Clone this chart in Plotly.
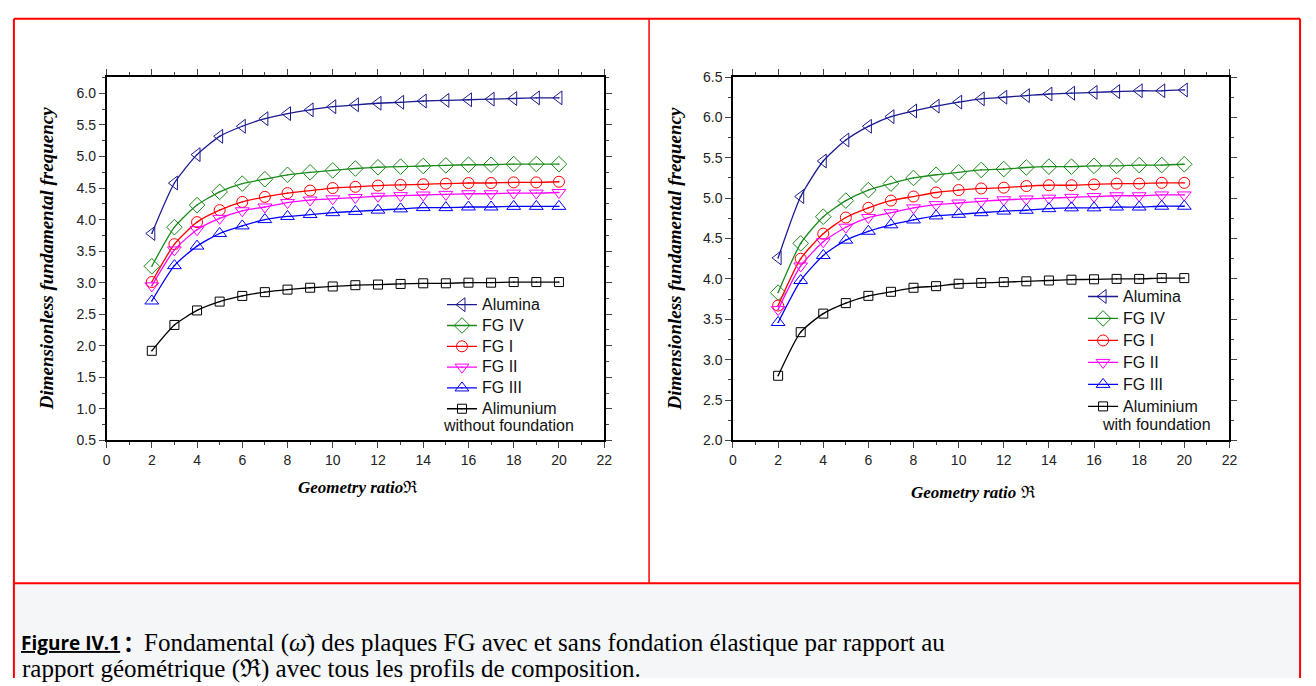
import plotly.graph_objects as go

# Geometry ratio values (shared by both panels)
ratio = list(range(2, 21))

# Dimensionless fundamental frequency, plates without elastic foundation
alumina_wo = [3.78, 4.58, 5.03, 5.32, 5.48, 5.60, 5.68, 5.74, 5.79, 5.82, 5.845, 5.86, 5.88, 5.89, 5.90, 5.91, 5.92, 5.93, 5.93]
fg4_wo = [3.26, 3.88, 4.23, 4.44, 4.57, 4.64, 4.71, 4.75, 4.78, 4.81, 4.83, 4.84, 4.85, 4.86, 4.87, 4.87, 4.88, 4.88, 4.88]
fg1_wo = [3.01, 3.61, 3.96, 4.15, 4.28, 4.36, 4.42, 4.46, 4.50, 4.52, 4.54, 4.55, 4.56, 4.57, 4.58, 4.58, 4.59, 4.59, 4.60]
fg2_wo = [2.95, 3.52, 3.84, 4.02, 4.14, 4.20, 4.27, 4.31, 4.33, 4.35, 4.37, 4.38, 4.39, 4.40, 4.41, 4.41, 4.42, 4.42, 4.43]
fg3_wo = [2.71, 3.27, 3.58, 3.78, 3.90, 4.00, 4.05, 4.08, 4.11, 4.13, 4.15, 4.17, 4.19, 4.19, 4.20, 4.20, 4.21, 4.21, 4.21]
alu_wo = [1.92, 2.33, 2.56, 2.70, 2.79, 2.85, 2.89, 2.92, 2.94, 2.96, 2.97, 2.98, 2.99, 2.99, 3.00, 3.00, 3.01, 3.01, 3.01]

# Dimensionless fundamental frequency, plates with elastic foundation
alumina_w = [4.26, 5.02, 5.46, 5.72, 5.89, 6.01, 6.08, 6.14, 6.19, 6.23, 6.25, 6.27, 6.29, 6.30, 6.31, 6.32, 6.33, 6.33, 6.34]
fg4_w = [3.83, 4.44, 4.77, 4.97, 5.10, 5.18, 5.25, 5.29, 5.32, 5.35, 5.36, 5.38, 5.39, 5.39, 5.40, 5.40, 5.41, 5.41, 5.42]
fg1_w = [3.67, 4.25, 4.56, 4.76, 4.88, 4.97, 5.02, 5.07, 5.10, 5.12, 5.13, 5.15, 5.16, 5.16, 5.17, 5.18, 5.18, 5.19, 5.19]
fg2_w = [3.62, 4.16, 4.46, 4.64, 4.76, 4.82, 4.88, 4.92, 4.94, 4.96, 4.98, 4.99, 5.00, 5.01, 5.02, 5.03, 5.03, 5.04, 5.04]
fg3_w = [3.46, 3.98, 4.29, 4.48, 4.59, 4.67, 4.73, 4.78, 4.80, 4.82, 4.84, 4.85, 4.87, 4.88, 4.88, 4.89, 4.89, 4.90, 4.90]
alu_w = [2.80, 3.34, 3.57, 3.70, 3.79, 3.84, 3.89, 3.91, 3.94, 3.95, 3.96, 3.97, 3.98, 3.99, 3.995, 4.00, 4.00, 4.01, 4.01]

series_names_wo = ["Alumina", "FG IV", "FG I", "FG II", "FG III", "Alimunium"]
series_names_w = ["Alumina", "FG IV", "FG I", "FG II", "FG III", "Aluminium"]

W, H = 1316, 686


def px(x):
    return x / W


def py(y):
    return 1 - y / H


styles = [
    dict(color="#1a1a90", symbol="triangle-left-open-dot", size=12),
    dict(color="#1a8a1a", symbol="diamond-open-dot", size=12),
    dict(color="#ff0000", symbol="circle-open-dot", size=11),
    dict(color="#ff00ff", symbol="triangle-down-open-dot", size=12),
    dict(color="#0000ff", symbol="triangle-up-open-dot", size=12),
    dict(color="#000000", symbol="square-open-dot", size=9),
]

LEGEND_TEXT = "<span style='font-size:16px'>{}</span>"

fig = go.Figure()

panels = [
    (series_names_wo, [alumina_wo, fg4_wo, fg1_wo, fg2_wo, fg3_wo, alu_wo], "x", "y", "legend"),
    (series_names_w, [alumina_w, fg4_w, fg1_w, fg2_w, fg3_w, alu_w], "x2", "y2", "legend2"),
]
for names, data, xa, ya, lg in panels:
    for name, vals, st in zip(names, data, styles):
        fig.add_trace(go.Scatter(
            x=ratio, y=vals, name=LEGEND_TEXT.format(name), mode="lines+markers",
            xaxis=xa, yaxis=ya, legend=lg,
            line=dict(color=st["color"], width=1.3, shape="spline", smoothing=0.6),
            marker=dict(symbol=st["symbol"], size=st["size"], color=st["color"],
                        line=dict(color=st["color"], width=1)),
        ))

tickfont = dict(family="Liberation Sans, Arial", size=14, color="#222")
common_x = dict(range=[0, 22], tick0=0, dtick=2, ticks="outside", ticklen=6, tickwidth=1.2,
                minor=dict(dtick=1, ticks="outside", ticklen=3, tickwidth=1),
                showline=True, mirror="ticks", linecolor="black", linewidth=1.5,
                showgrid=False, zeroline=False, tickfont=tickfont)
common_y = dict(dtick=0.5, tickformat=".1f", ticks="outside", ticklen=6, tickwidth=1.2,
                minor=dict(dtick=0.25, ticks="outside", ticklen=3, tickwidth=1),
                showline=True, mirror="ticks", linecolor="black", linewidth=1.5,
                showgrid=False, zeroline=False, tickfont=tickfont)

y_dom = [py(442.7), py(70.7)]
legend_font = dict(family="Liberation Sans, Arial", color="#111")
fig.update_layout(
    width=W, height=H, margin=dict(l=0, r=0, t=0, b=0),
    paper_bgcolor="white", plot_bgcolor="white",
    xaxis=dict(domain=[px(103.5), px(605.7)], anchor="y", **common_x),
    yaxis=dict(domain=y_dom, anchor="x", range=[0.5, 6.26], tick0=0.5, **common_y),
    xaxis2=dict(domain=[px(735.7), px(1236.7)], anchor="y2", **common_x),
    yaxis2=dict(domain=y_dom, anchor="x2", range=[2.0, 6.5], tick0=2.0, **common_y),
    legend=dict(x=px(442), y=py(288), xanchor="left", yanchor="top",
                bgcolor="rgba(0,0,0,0)", font=dict(size=13.7, **legend_font),
                itemwidth=30, tracegroupgap=0),
    legend2=dict(x=px(1089), y=py(279), xanchor="left", yanchor="top",
                 bgcolor="rgba(0,0,0,0)", font=dict(size=14.6, **legend_font),
                 itemwidth=30, tracegroupgap=0),
)

red = dict(color="#ff0000", width=2)
shapes = [
    # caption background
    dict(type="rect", xref="paper", yref="paper", x0=px(11), x1=px(1307), y0=0, y1=py(589),
         fillcolor="#f4f6f8", line=dict(width=0), layer="below"),
    # frame lines
    dict(type="line", xref="paper", yref="paper", x0=px(10), x1=px(1308), y0=py(11), y1=py(11), line=red),
    dict(type="line", xref="paper", yref="paper", x0=px(10), x1=px(1308), y0=py(589), y1=py(589), line=red),
    dict(type="line", xref="paper", yref="paper", x0=px(10), x1=px(10), y0=py(11), y1=0, line=red),
    dict(type="line", xref="paper", yref="paper", x0=px(1308), x1=px(1308), y0=py(11), y1=0, line=red),
    dict(type="line", xref="paper", yref="paper", x0=px(651), x1=px(651), y0=py(11), y1=py(589), line=dict(color="#ff0000", width=1.5)),
]
fig.update_layout(shapes=shapes)

ytitle_font = dict(family="Liberation Serif, Times New Roman, serif", size=19, color="#000")
xtitle_font = dict(family="Liberation Serif, Times New Roman, serif", size=17, color="#000")
ann = [
    dict(text="<b><i>Dimensionless fundamental frequency</i></b>", x=px(43), y=py(256.7), textangle=-90, font=ytitle_font),
    dict(text="<b><i>Dimensionless fundamental frequency</i></b>", x=px(677), y=py(256.7), textangle=-90, font=ytitle_font),
    dict(text="<b><i>Geometry ratio</i></b><span style='font-family:DejaVu Serif'>ℜ</span>", x=px(357), y=py(490), font=xtitle_font),
    dict(text="<b><i>Geometry ratio</i></b> <span style='font-family:DejaVu Serif'>ℜ</span>", x=px(978), y=py(496), font=xtitle_font),
    dict(text="without foundation", x=px(441), y=py(427), xanchor="left",
         font=dict(family="Liberation Sans, Arial", size=16, color="#111")),
    dict(text="with foundation", x=px(1106), y=py(426), xanchor="left",
         font=dict(family="Liberation Sans, Arial", size=16, color="#111")),
    # caption
    dict(text="<b>Figure IV.1</b>", x=px(15), y=py(650), xanchor="left",
         font=dict(family="Open Sans, Noto Sans, sans-serif", size=19, color="#000", lineposition="under")),
    dict(text="<b>：</b>", x=px(118), y=py(648), xanchor="left",
         font=dict(family="Noto Sans CJK SC, sans-serif", size=22, color="#000")),
    dict(text="Fondamental (<i>ω̄</i>) des plaques FG avec et sans fondation élastique par rapport au",
         x=px(139), y=py(650), xanchor="left",
         font=dict(family="Liberation Serif, Times New Roman, serif", size=25, color="#000")),
    dict(text="rapport géométrique (ℜ) avec tous les profils de composition.",
         x=px(16), y=py(677), xanchor="left",
         font=dict(family="Liberation Serif, Times New Roman, serif", size=25, color="#000")),
]
for a in ann:
    a.setdefault("xref", "paper")
    a.setdefault("yref", "paper")
    a.setdefault("showarrow", False)
    a.setdefault("xanchor", "center")
    a.setdefault("yanchor", "middle")
fig.update_layout(annotations=ann)

fig.write_html("out.html")
